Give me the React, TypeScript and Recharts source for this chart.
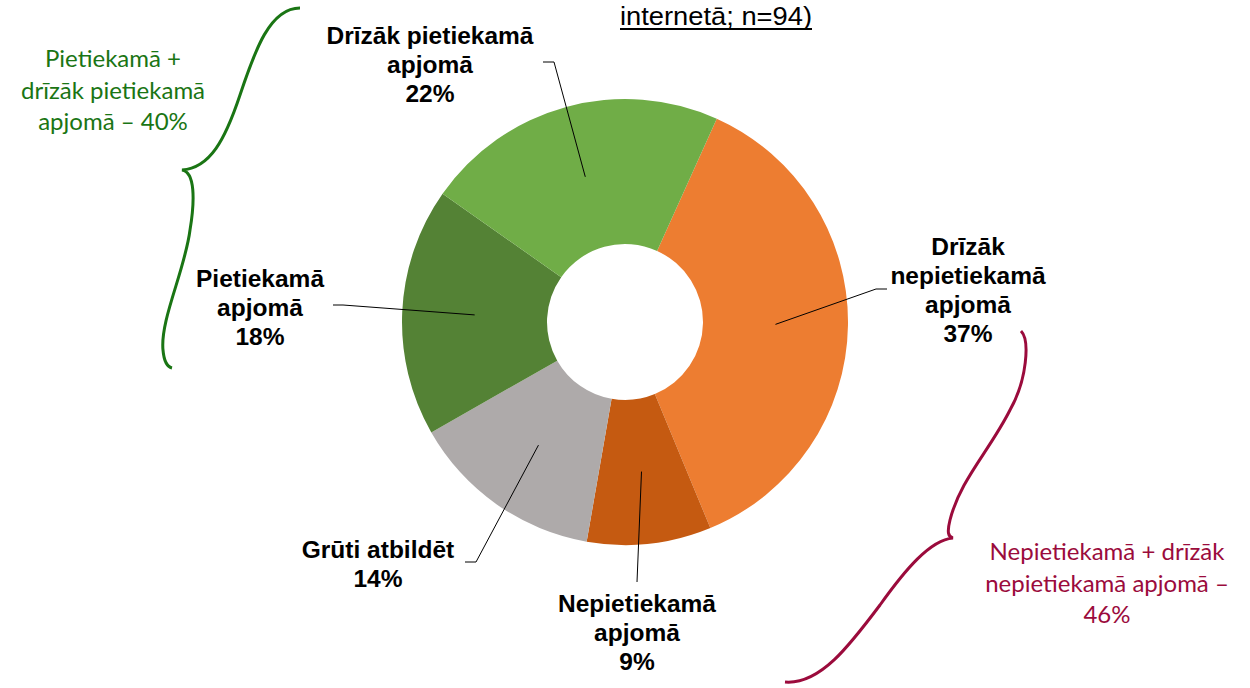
import { Cell, Pie, PieChart } from "recharts";

const categories = [
  "Drīzāk nepietiekamā apjomā",
  "Nepietiekamā apjomā",
  "Grūti atbildēt",
  "Pietiekamā apjomā",
  "Drīzāk pietiekamā apjomā",
];
const shares = [37, 9, 14, 18, 22];
const colors = ["#ED7D31", "#C55A11", "#AEAAAA", "#548235", "#70AD47"];

// label text lines for each slice (the percentage is added as the last line)
const labelLines = [
  ["Drīzāk", "nepietiekamā", "apjomā"],
  ["Nepietiekamā", "apjomā"],
  ["Grūti atbildēt"],
  ["Pietiekamā", "apjomā"],
  ["Drīzāk pietiekamā", "apjomā"],
];

const data = categories.map((name, i) => ({ name, value: shares[i] }));

// leader line / label placement, offsets from the pie centre
const labelLayout = [
  { elbow: [251, -33], end: [262, -33], tx: 343, ty: -76 },
  { elbow: [12, 260], end: [12, 260], tx: 12, ty: 281 },
  { elbow: [-149, 240], end: [-160, 240], tx: -247, ty: 227 },
  { elbow: [-282, -17], end: [-292, -17], tx: -365, ty: -44 },
  { elbow: [-71, -260], end: [-82, -260], tx: -195, ty: -287 },
];

const RAD = Math.PI / 180;
const LINE_H = 29;

function renderLabel(props: any) {
  const { cx, cy, midAngle, innerRadius, outerRadius, index, value } = props;
  const r = (innerRadius + outerRadius) / 2;
  const sx = cx + r * Math.cos(-midAngle * RAD);
  const sy = cy + r * Math.sin(-midAngle * RAD);
  const l = labelLayout[index];
  const lines = [...labelLines[index], `${value}%`];
  return (
    <g key={`lbl-${index}`}>
      <polyline
        points={`${sx},${sy} ${cx + l.elbow[0]},${cy + l.elbow[1]} ${cx + l.end[0]},${cy + l.end[1]}`}
        fill="none"
        stroke="#000"
        strokeWidth={1}
      />
      <text
        x={cx + l.tx}
        y={cy + l.ty}
        textAnchor="middle"
        dominantBaseline="central"
        fontFamily="'Liberation Sans', Arial, sans-serif"
        fontWeight="bold"
        fontSize={24.5}
        fill="#000"
      >
        {lines.map((t, k) => (
          <tspan key={k} x={cx + l.tx} dy={k === 0 ? 0 : LINE_H}>
            {t}
          </tspan>
        ))}
      </text>
    </g>
  );
}

const greenNote = ["Pietiekamā +", "drīzāk pietiekamā", "apjomā – 40%"];
const redNote = ["Nepietiekamā + drīzāk", "nepietiekamā apjomā –", "46%"];

export default function App() {
  return (
    <div style={{ position: "absolute", left: 0, top: 0, width: 1250, height: 688, background: "#fff" }}>
      <PieChart width={1250} height={688} margin={{ top: 0, right: 0, bottom: 0, left: 0 }}>
        <Pie
          data={data}
          dataKey="value"
          nameKey="name"
          cx={625}
          cy={322}
          innerRadius={78}
          outerRadius={223}
          startAngle={65.7}
          endAngle={-294.3}
          stroke="none"
          labelLine={false}
          label={renderLabel}
          isAnimationActive={false}
        >
          {data.map((d, i) => (
            <Cell key={d.name} fill={colors[i]} />
          ))}
        </Pie>
      </PieChart>
      <svg
        width={1250}
        height={688}
        style={{ position: "absolute", left: 0, top: 0, pointerEvents: "none" }}
      >
        <text
          x={620}
          y={25}
          textLength={192}
          lengthAdjust="spacingAndGlyphs"
          fontFamily="'Liberation Sans', Arial, sans-serif"
          fontSize={25}
          fill="#000"
        >
          internetā; n=94)
        </text>
        <line x1={620} y1={29} x2={812} y2={29} stroke="#000" strokeWidth={2} />

        <path
          d="M300,8 C270,8 255,50 240,95 C225,140 210,168 182,170 C195,172 195,200 190,230 C185,270 160,320 163,350 C164,362 168,367 172,368"
          fill="none"
          stroke="#1A7514"
          strokeWidth={3}
        />
        <text
          x={113}
          y={57}
          textAnchor="middle"
          dominantBaseline="central"
          fontFamily="Lato, sans-serif"
          fontSize={24}
          fill="#1A7514"
        >
          {greenNote.map((t, k) => (
            <tspan key={k} x={113} dy={k === 0 ? 0 : 31.5}>
              {t}
            </tspan>
          ))}
        </text>

        <path
          d="M1021,331 C1030,340 1027,380 1010,410 C990,450 960,480 950,520 C947,532 948,537 953,538 C930,540 905,570 880,605 C850,645 820,685 785,682"
          fill="none"
          stroke="#9B0B3C"
          strokeWidth={3}
        />
        <text
          x={1107}
          y={550}
          textAnchor="middle"
          dominantBaseline="central"
          fontFamily="Lato, sans-serif"
          fontSize={24}
          fill="#9B0B3C"
        >
          {redNote.map((t, k) => (
            <tspan key={k} x={1107} dy={k === 0 ? 0 : 31.5}>
              {t}
            </tspan>
          ))}
        </text>
      </svg>
    </div>
  );
}
